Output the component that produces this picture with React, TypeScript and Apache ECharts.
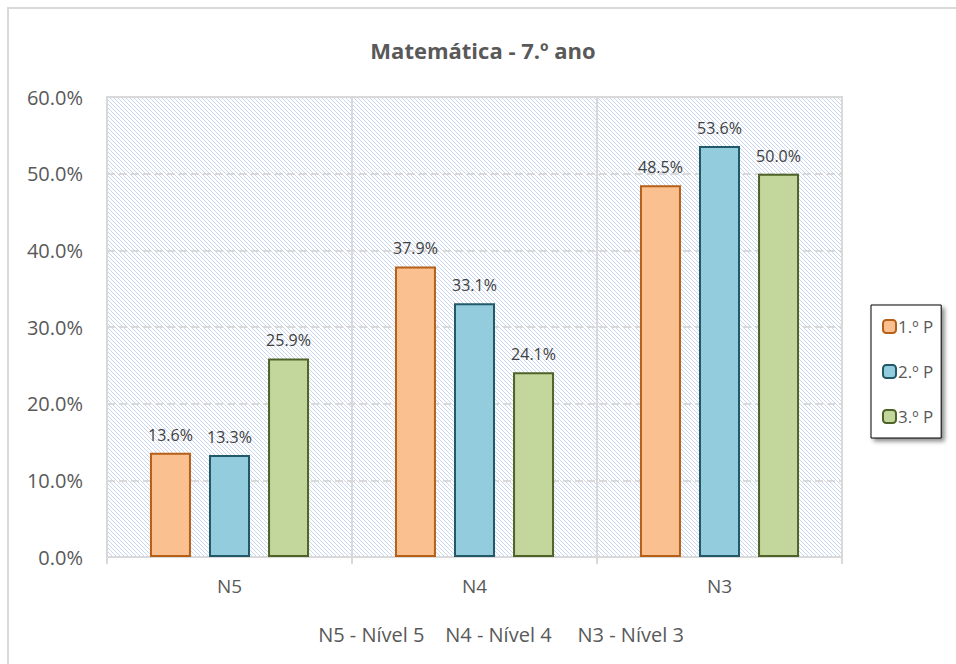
import React, { useEffect, useRef } from "react";
import * as echarts from "echarts";

const categories = ["N5", "N4", "N3"];
const seriesNames = ["1.º P", "2.º P", "3.º P"];
const p1 = [13.6, 37.9, 48.5];
const p2 = [13.3, 33.1, 53.6];
const p3 = [25.9, 24.1, 50.0];
const fills = ["#fac090", "#93cddd", "#c3d69b"];
const borders = ["#b65f17", "#215968", "#4f6228"];
const titleText = "Matemática - 7.º ano";
const noteText = "N5 - Nível 5    N4 - Nível 4     N3 - Nível 3";

const FONT = "'Open Sans', 'Noto Sans', sans-serif";

function makeHatch(): string {
  const c = document.createElement("canvas");
  c.width = 4;
  c.height = 4;
  const ctx = c.getContext("2d")!;
  ctx.fillStyle = "#ffffff";
  ctx.fillRect(0, 0, 4, 4);
  ctx.fillStyle = "#c8d7ef";
  for (let i = 0; i < 4; i++) ctx.fillRect(i, i, 1, 1);
  return c.toDataURL();
}

export default function App() {
  const ref = useRef<HTMLDivElement>(null);
  useEffect(() => {
    if (!ref.current) return;
    const chart = echarts.init(ref.current, undefined, { renderer: "svg" });
    const values = [p1, p2, p3];
    const pct = (v: number) => v.toFixed(1) + "%";
    chart.setOption({
      animation: false,
      backgroundColor: "#ffffff",
      title: {
        text: titleText,
        left: 478,
        textAlign: "center",
        top: 34,
        textStyle: { fontFamily: FONT, fontSize: 22, fontWeight: "bold", color: "#595959" },
      },
      graphic: [
        {
          type: "rect",
          shape: { x: 8, y: 8, width: 1000, height: 700 },
          style: { fill: "none", stroke: "#d9d9d9", lineWidth: 2 },
          silent: true,
        },
        {
          type: "text",
          x: 501,
          y: 634,
          style: {
            text: noteText,
            fontFamily: FONT,
            fontSize: 20,
            fill: "#595959",
            align: "center",
            verticalAlign: "middle",
          },
        },
      ],
      legend: {
        orient: "vertical",
        left: 871,
        top: 305,
        padding: [13, 8, 13, 11],
        itemGap: 28,
        itemWidth: 13,
        itemHeight: 13,
        backgroundColor: "#ffffff",
        borderColor: "#000000",
        borderWidth: 1,
        shadowColor: "rgba(0,0,0,0.45)",
        shadowBlur: 4,
        shadowOffsetX: 3,
        shadowOffsetY: 3,
        textStyle: { fontFamily: FONT, fontSize: 17, color: "#595959", lineHeight: 14, padding: [0, 0, 0, -3] },
        data: seriesNames,
      },
      grid: {
        left: 107,
        top: 97,
        right: 114,
        bottom: 107,
        show: true,
        backgroundColor: { image: makeHatch(), repeat: "repeat", imageWidth: 4, imageHeight: 4 },
        borderColor: "#d9d9d9",
        borderWidth: 2,
      },
      xAxis: {
        type: "category",
        data: categories,
        axisLine: { lineStyle: { color: "#d9d9d9", width: 2 } },
        axisTick: { show: true, length: 7, lineStyle: { color: "#d9d9d9", width: 2 } },
        splitLine: { show: true, lineStyle: { color: "#d9d9d9", width: 2 } },
        axisLabel: { color: "#595959", fontFamily: FONT, fontSize: 19, margin: 19 },
      },
      yAxis: {
        type: "value",
        min: 0,
        max: 60,
        interval: 10,
        axisLine: { show: true, lineStyle: { color: "#d9d9d9", width: 2 } },
        axisTick: { show: false },
        splitLine: { show: true, lineStyle: { color: "#d9d9d9", width: 2, type: [8, 4] } },
        axisLabel: {
          formatter: (v: number) => pct(v),
          color: "#595959",
          fontFamily: FONT,
          fontSize: 20,
          margin: 24,
        },
      },
      series: seriesNames.map((name, i) => ({
        name,
        type: "bar",
        data: values[i],
        barWidth: 41,
        barGap: "44%",
        itemStyle: { color: fills[i], borderColor: borders[i], borderWidth: 2 },
        label: {
          show: true,
          position: "top",
          distance: 10,
          formatter: (p: any) => pct(p.value),
          color: "#404040",
          fontFamily: FONT,
          fontSize: 16,
        },
      })),
    });
    return () => chart.dispose();
  }, []);
  return (
    <div
      ref={ref}
      style={{ position: "fixed", left: 0, top: 0, width: 956, height: 664 }}
    />
  );
}
